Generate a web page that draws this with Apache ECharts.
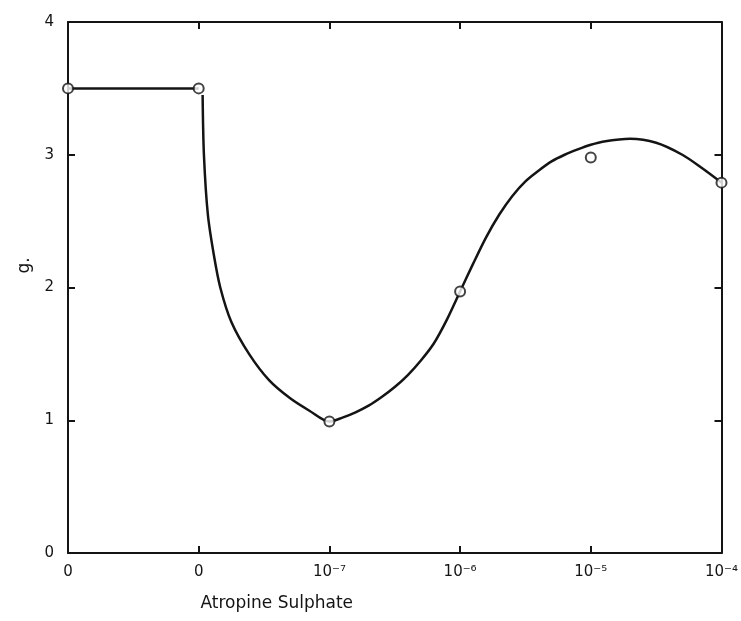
<!DOCTYPE html>
<html>
<head>
<meta charset="utf-8">
<script src="https://cdn.jsdelivr.net/npm/echarts@6/dist/echarts.min.js"></script>
<style>
  html, body { margin: 0; padding: 0; background: #fff; }
  #chart { width: 741px; height: 621px; }
</style>
</head>
<body>
<div id="chart"></div>
<script>
// category labels along the x axis (positions 0..5)
const xLabels = ['0', '0', '10⁻⁷', '10⁻⁶', '10⁻⁵', '10⁻⁴'];
const yTicks = [0, 1, 2, 3, 4];

// measured points (open circles)
const pointX = [0, 1, 2, 3, 4, 5];
const pointY = [3.5, 3.5, 0.99, 1.97, 2.98, 2.79];

// hand-drawn curve
const curveX = [1.03, 1.04, 1.07, 1.115, 1.165, 1.25, 1.385, 1.54, 1.7, 1.85, 2.0,
  2.1, 2.2, 2.3, 2.4, 2.5, 2.6, 2.7, 2.8, 2.9, 3.0, 3.1, 3.2, 3.3, 3.4, 3.5, 3.6, 3.7,
  3.8, 3.9, 4.0, 4.1, 4.3, 4.5, 4.7, 4.85, 5.0];
const curveY = [3.45, 3.0, 2.55, 2.25, 2.0, 1.74, 1.5, 1.3, 1.165, 1.07, 0.99,
  1.02, 1.06, 1.11, 1.175, 1.25, 1.34, 1.45, 1.58, 1.76, 1.97, 2.18, 2.38, 2.55, 2.69, 2.8, 2.88, 2.95,
  3.0, 3.04, 3.075, 3.1, 3.12, 3.09, 3.0, 2.9, 2.79];

const ink = '#141414';
const font = 'DejaVu Sans';

const chart = echarts.init(document.getElementById('chart'));

const boxAxis = {
  type: 'value',
  min: 0,
  axisLine: { show: true, onZero: false, lineStyle: { color: ink, width: 2 } },
  axisTick: { show: true, inside: true, length: 7, lineStyle: { color: ink, width: 2 } },
  splitLine: { show: false }
};

chart.setOption({
  backgroundColor: '#fff',
  animation: false,
  grid: { left: 68, right: 19, top: 22, bottom: 68 },
  xAxis: [
    {
      ...boxAxis,
      position: 'bottom',
      max: xLabels.length - 1,
      interval: 1,
      axisLabel: {
        color: ink, fontFamily: font, fontSize: 15, margin: 12,
        formatter: v => xLabels[Math.round(v)]
      },
      name: 'Atropine Sulphate',
      nameLocation: 'middle',
      nameGap: 42,
      nameTextStyle: { color: ink, fontFamily: font, fontSize: 17, padding: [0, 236, 0, 0] }
    },
    {
      ...boxAxis,
      position: 'top',
      max: xLabels.length - 1,
      interval: 1,
      axisLabel: { show: false }
    }
  ],
  yAxis: [
    {
      ...boxAxis,
      position: 'left',
      max: yTicks[yTicks.length - 1],
      interval: 1,
      axisLabel: { color: ink, fontFamily: font, fontSize: 15, margin: 14 },
      name: 'g.',
      nameLocation: 'middle',
      nameRotate: 90,
      nameGap: 34,
      nameTextStyle: { color: ink, fontFamily: font, fontSize: 17, padding: [0, 0, 0, 44] }
    },
    {
      ...boxAxis,
      position: 'right',
      max: yTicks[yTicks.length - 1],
      interval: 1,
      axisLabel: { show: false }
    }
  ],
  series: [
    {
      name: 'plateau',
      type: 'line',
      data: [[pointX[0], pointY[0]], [pointX[1], pointY[1]]],
      symbol: 'none',
      lineStyle: { color: ink, width: 2.5 },
      z: 2
    },
    {
      name: 'curve',
      type: 'line',
      data: curveX.map((x, i) => [x, curveY[i]]),
      smooth: 0.3,
      symbol: 'none',
      lineStyle: { color: ink, width: 2.5 },
      z: 2
    },
    {
      name: 'points',
      type: 'scatter',
      data: pointX.map((x, i) => [x, pointY[i]]),
      symbol: 'circle',
      symbolSize: 10,
      itemStyle: { color: '#fff', borderColor: ink, borderWidth: 2 },
      z: 3
    }
  ]
});
</script>
</body>
</html>
